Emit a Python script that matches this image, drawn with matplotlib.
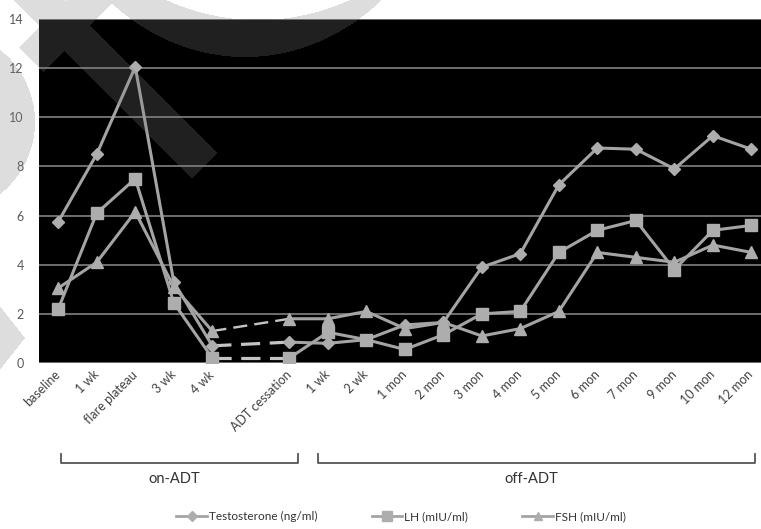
import numpy as np
import matplotlib
matplotlib.use("Agg")
import matplotlib.pyplot as plt
import matplotlib.transforms as mtransforms
from matplotlib.lines import Line2D
from matplotlib.path import Path

plt.rcParams['font.family'] = ['Lato', 'DejaVu Sans']

# time points (index 5 is an empty slot between 4 wk and ADT cessation)
timepoints = ["baseline", "1 wk", "flare plateau", "3 wk", "4 wk", "",
              "ADT cessation", "1 wk", "2 wk", "1 mon", "2 mon", "3 mon",
              "4 mon", "5 mon", "6 mon", "7 mon", "9 mon", "10 mon", "12 mon"]
testosterone = [5.75, 8.5, 12.05, 3.3, 0.7, np.nan, 0.85, 0.8, 0.95, 1.55, 1.65,
                3.9, 4.45, 7.25, 8.75, 8.7, 7.9, 9.25, 8.7]
lh = [2.2, 6.1, 7.5, 2.45, 0.2, np.nan, 0.2, 1.25, 0.95, 0.55, 1.15,
      2.0, 2.1, 4.5, 5.4, 5.8, 3.8, 5.4, 5.6]
fsh = [3.05, 4.1, 6.15, 3.1, 1.3, np.nan, 1.8, 1.8, 2.1, 1.4, 1.65,
       1.1, 1.4, 2.1, 4.5, 4.3, 4.1, 4.8, 4.5]
series_names = ["Testosterone (ng/ml)", "LH (mIU/ml)", "FSH (mIU/ml)"]
phases = [("on-ADT", 0.07, 6.23), ("off-ADT", 6.75, 18.1)]

W, H = 761, 529
fig = plt.figure(figsize=(W / 100, H / 100), dpi=100)
ax = fig.add_axes([39 / W, (H - 363) / H, (W - 39) / W, (363 - 19) / H])
ax.set_facecolor("black")

x = np.arange(len(timepoints))
line_col = "#a4a4a4"
mark_col = "#adadad"
styles = [("D", 6), ("s", 8.5), ("^", 8)]
handles = []
for vals, name, (mk, ms) in zip([testosterone, lh, fsh], series_names, styles):
    vals = np.array(vals, dtype=float)
    ax.plot(x, vals, color=line_col, lw=2.2, marker=mk, ms=ms,
            mfc=mark_col, mec=mark_col, zorder=3)
    # dashed bridge across the empty slot
    ax.plot([4, 6], [vals[4], vals[6]], color="#c4c4c4", lw=2.3 if mk != "^" else 1.7,
            ls=(0, (6, 3)), zorder=2)
    handles.append(Line2D([], [], color=line_col, lw=2.0, marker=mk, ms=ms * 0.8,
                          mfc=mark_col, mec=mark_col))

ax.set_xlim(-0.5, 18.25)
ax.set_ylim(0, 14)
ax.set_yticks(range(0, 15, 2))
ax.grid(axis="y", color="#6e6e6e", lw=1.4)
ax.set_axisbelow(True)
for s in ax.spines.values():
    s.set_visible(False)
ax.tick_params(axis="y", length=0, pad=11, labelsize=9, labelcolor="#595959")
ax.tick_params(axis="x", length=0, pad=7, labelsize=9, labelcolor="#404040")
ax.set_xticks(x)
ax.set_xticklabels(timepoints, rotation=45, ha="right", va="center",
                   rotation_mode="anchor")

# phase brackets under the axis
blend = mtransforms.blended_transform_factory(ax.transData, ax.transAxes)
for label, x0, x1 in phases:
    ax.plot([x0, x0, x1, x1], [-0.2645, -0.2907, -0.2907, -0.2645], color="#555555",
            lw=1.3, transform=blend, clip_on=False)
    ax.text((x0 + x1) / 2 - 0.15, -0.337, label, transform=blend, ha="center",
            va="center", fontsize=10.5, color="#333333")

fig.legend(handles, series_names, loc="center", bbox_to_anchor=(0.527, 0.024),
           ncol=3, frameon=False, fontsize=8.5, handlelength=2.6, handletextpad=0.15,
           columnspacing=4.6, labelcolor="#333333")

# faint watermark shapes over the picture
gx, gy = np.meshgrid(np.arange(W) + 0.5, np.arange(H) + 0.5)
pts = np.column_stack([gx.ravel(), gy.ravel()])


def band(cx, cy, dx, dy, length, half):
    d = np.array([dx, dy]) / np.hypot(dx, dy)
    n = np.array([-d[1], d[0]])
    c = np.array([cx, cy])
    e = c + d * length
    return Path([c + n * half, e + n * half, e - n * half, c - n * half, c + n * half])


mask = np.zeros(len(pts), dtype=bool)
mask |= band(205, 166, -1, -1, 400, 18).contains_points(pts)
mask |= band(31, 60, 1, -1, 200, 17).contains_points(pts)
mask |= Path([(-5, 300), (25, 338), (-5, 376), (-5, 300)]).contains_points(pts)
px, py = pts[:, 0], pts[:, 1]
mask |= (px + 57) ** 2 + (py - 122) ** 2 <= 92 ** 2
mask |= (((px - 245) / 218) ** 2 + ((py + 200) / 257) ** 2 <= 1) & \
        ((px - 258) ** 2 + (py + 200) ** 2 > 220 ** 2)
mask = mask.reshape(H, W)
img = np.zeros((H, W, 4))
img[..., :3] = 0.5
img[..., 3] = np.where(mask, 0.26, 0.0)
fig.figimage(img, xo=0, yo=0, origin="upper", zorder=10)

fig.savefig("out.png", dpi=100)
